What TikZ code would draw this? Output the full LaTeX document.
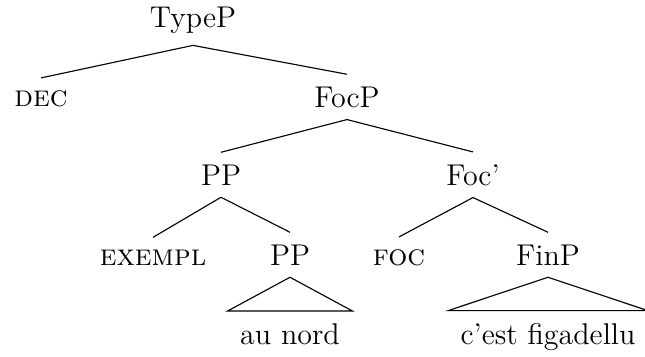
\documentclass[tikz,border=0pt]{standalone}
\begin{document}
\begin{tikzpicture}[x=0.4pt,y=-0.4pt,
  lab/.style={anchor=base,inner ysep=4.7pt,inner xsep=4.8pt,font=\fontsize{12}{14}\selectfont},
  edge/.style={line width=0.45pt}]
\useasboundingbox (0,0) rectangle (645,356);
\node[lab] (TypeP) at (193,27) {TypeP};
\node[lab] (DEC) at (41,106) {\textsc{dec}};
\node[lab] (FocP) at (347,107) {FocP};
\node[lab] (PPa) at (221,185) {PP};
\node[lab] (Focbar) at (473,185) {Foc'};
\node[lab] (EXEMPL) at (153,265) {\textsc{exempl}};
\node[lab] (PPb) at (290,265) {PP};
\node[lab] (FOC) at (399,265) {\textsc{foc}};
\node[lab] (FinP) at (548,265) {FinP};
\node[lab] (aunord) at (290,344) {au nord};
\node[lab] (cest) at (548,344) {c'est figadellu};
\draw[edge] (TypeP.south) -- (DEC.north);
\draw[edge] (TypeP.south) -- (FocP.north);
\draw[edge] (FocP.south) -- (PPa.north);
\draw[edge] (FocP.south) -- (Focbar.north);
\draw[edge] (PPa.south) -- (EXEMPL.north);
\draw[edge] (PPa.south) -- (PPb.north);
\draw[edge] (Focbar.south) -- (FOC.north);
\draw[edge] (Focbar.south) -- (FinP.north);
\draw[edge] (PPb.south) -- (aunord.north west) -- (aunord.north east) -- cycle;
\draw[edge] (FinP.south) -- (cest.north west) -- (cest.north east) -- cycle;
\end{tikzpicture}
\end{document}
